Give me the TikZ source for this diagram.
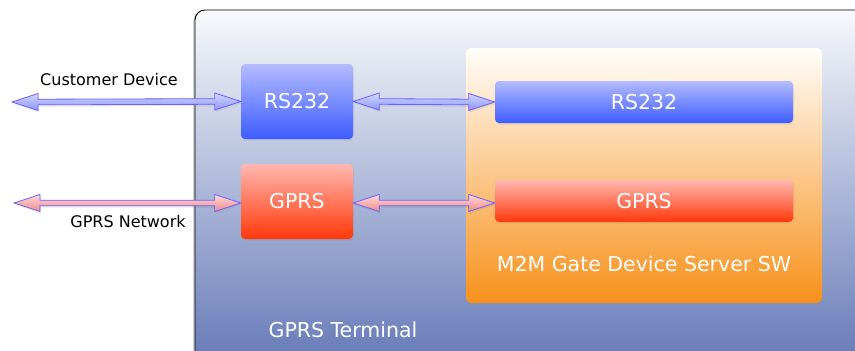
\documentclass[tikz,border=0pt]{standalone}
\usepackage{fontspec}
\setmainfont{DejaVu Sans}
\usepackage{xcolor}
\usetikzlibrary{calc, shadows}

\definecolor{termtop}{HTML}{F8F9FB}
\definecolor{termmid}{HTML}{ADB7D4}
\definecolor{termbot}{HTML}{5A70B2}
\definecolor{bluetop}{HTML}{B4BCFF}
\definecolor{bluebot}{HTML}{3D5CFF}
\definecolor{redtop}{HTML}{FFB8B0}
\definecolor{redbot}{HTML}{FF380A}
\definecolor{swtop}{HTML}{FFFEFA}
\definecolor{swmid}{HTML}{F9BA7A}
\definecolor{swbot}{HTML}{F7901A}
\definecolor{arrowline}{HTML}{6E5EFF}
\definecolor{arrowbluetop}{HTML}{D6DAFF}
\definecolor{arrowbluebot}{HTML}{8894FF}
\definecolor{arrowredtop}{HTML}{FFD8D8}
\definecolor{arrowredbot}{HTML}{EE8A8A}

\tikzset{
  bigtext/.style={font=\fontsize{20.5}{23}\selectfont, text=white},
  smalltext/.style={font=\fontsize{16}{18}\selectfont, text=black},
  bluebox/.style={bigtext, rounded corners=4pt, top color=bluetop, bottom color=bluebot,
    drop shadow={opacity=0.15, shadow xshift=1pt, shadow yshift=-1.5pt}},
  redbox/.style={bigtext, rounded corners=4pt, top color=redtop, bottom color=redbot,
    drop shadow={opacity=0.15, shadow xshift=1pt, shadow yshift=-1.5pt}},
}

% double headed block arrow between two points
\newcommand{\biarrow}[4]{%
  \draw[draw=arrowline, line width=0.8pt, top color=#3, bottom color=#4,
    drop shadow={opacity=0.15, shadow xshift=1pt, shadow yshift=-2pt}]
    let \p1=(#1), \p2=(#2) in
    (\x1,\y1) -- (\x1+26pt,\y1+8.5pt) -- (\x1+26pt,\y1+2.8pt)
    -- (\x2-26pt,\y2+2.8pt) -- (\x2-26pt,\y2+8.5pt) -- (\x2,\y2)
    -- (\x2-26pt,\y2-8.5pt) -- (\x2-26pt,\y2-2.8pt)
    -- (\x1+26pt,\y1-2.8pt) -- (\x1+26pt,\y1-8.5pt) -- cycle;}

\begin{document}
\begin{tikzpicture}[x=1pt, y=-1pt]
  \useasboundingbox (0,0) rectangle (855,351);

  % Terminal
  \draw[black, line width=0.9pt, rounded corners=10pt, top color=termtop, middle color=termmid,
    bottom color=termbot, drop shadow={opacity=0.35, shadow xshift=-2pt, shadow yshift=-1pt}]
    (195,10) rectangle (900,390);
  \node[bigtext] (term) at (343,330) {GPRS Terminal};

  % Device server software
  \node[rounded corners=5pt, top color=swtop, middle color=swmid, bottom color=swbot,
    minimum width=356pt, minimum height=255pt, inner sep=0pt] (sw) at (644,175.5) {};
  \node[bluebox, minimum width=298pt, minimum height=42pt] (swrs) at (644,102) {RS232};
  \node[redbox, minimum width=298pt, minimum height=42pt] (swgprs) at (644,201) {GPRS};
  \node[bigtext] (swlabel) at (644,264) {M2M Gate Device Server SW};

  % Ports
  \node[bluebox, minimum width=112pt, minimum height=75pt] (rs) at (297,101.5) {RS232};
  \node[redbox, minimum width=112pt, minimum height=75pt] (gprs) at (297,201.5) {GPRS};

  % Outside
  \coordinate (cust) at (12,102);
  \coordinate (net) at (14,203);
  \node[smalltext] (custlabel) at (109,80) {Customer Device};
  \node[smalltext] (netlabel) at (128,222) {GPRS Network};

  % Arrows
  \biarrow{cust}{rs.west}{arrowbluetop}{arrowbluebot}
  \biarrow{rs.east}{swrs.west}{arrowbluetop}{arrowbluebot}
  \biarrow{net}{gprs.west|-net}{arrowredtop}{arrowredbot}
  \biarrow{gprs.east|-net}{swgprs.west|-net}{arrowredtop}{arrowredbot}
\end{tikzpicture}
\end{document}
